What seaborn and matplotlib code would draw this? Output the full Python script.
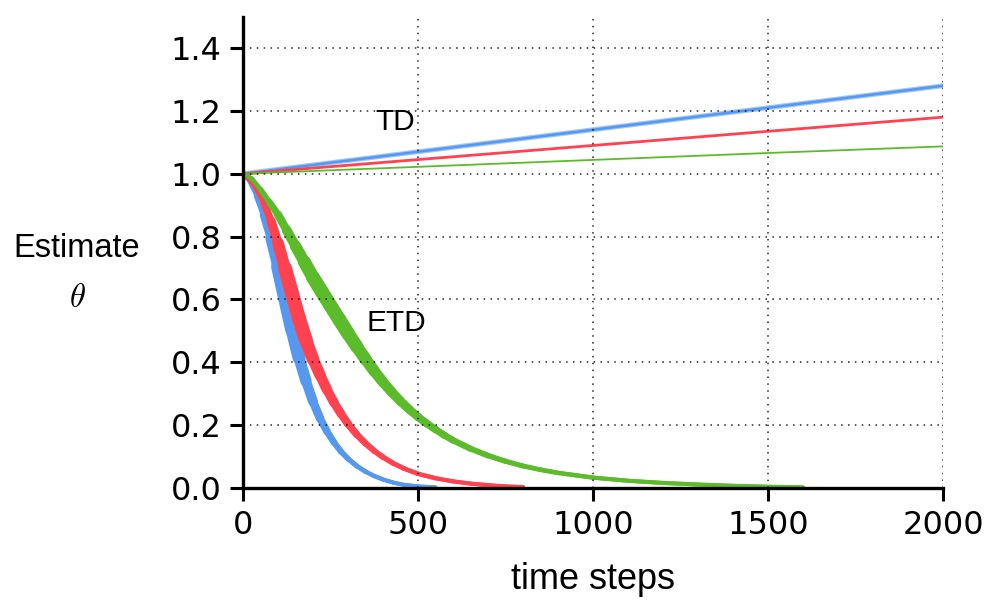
import matplotlib
matplotlib.use("Agg")
import matplotlib.pyplot as plt
import numpy as np
import seaborn as sns
from matplotlib.collections import LineCollection

# colours of the three step sizes
blue = "#5598EE"
red = "#FF4150"
green = "#5CBB2B"

# TD estimates (rising)
td_steps = [0, 500, 1000, 1500, 2000]
td_blue = [1.0, 1.07, 1.14, 1.21, 1.28]
td_red = [1.0, 1.045, 1.09, 1.135, 1.18]
td_green = [1.0, 1.022, 1.044, 1.066, 1.087]

# ETD estimates (decaying)
etd_blue_steps = [0, 20, 40, 60, 80, 100, 120, 140, 160, 180, 200, 220, 240, 260, 280, 300, 325, 350, 375, 400,
                  430, 460, 500, 550]
etd_blue = [1.0, 0.975, 0.93, 0.87, 0.795, 0.705, 0.605, 0.505, 0.415, 0.34, 0.275, 0.222, 0.18, 0.145, 0.116,
            0.093, 0.07, 0.052, 0.038, 0.027, 0.017, 0.01, 0.005, 0.002]

etd_red_steps = [0, 20, 40, 60, 80, 100, 120, 140, 160, 180, 200, 220, 240, 260, 280, 300, 325, 350, 375, 400,
                 430, 460, 500, 550, 600, 650, 700, 750, 800]
etd_red = [1.0, 0.98, 0.95, 0.91, 0.85, 0.78, 0.70, 0.62, 0.54, 0.47, 0.41, 0.36, 0.313, 0.272, 0.236, 0.204,
           0.17, 0.142, 0.118, 0.098, 0.078, 0.062, 0.045, 0.031, 0.021, 0.014, 0.009, 0.005, 0.003]

etd_green_steps = [0, 25, 50, 75, 100, 125, 150, 175, 200, 225, 250, 275, 300, 325, 350, 375, 400, 425, 450, 475,
                   500, 525, 550, 575, 600, 650, 700, 750, 800, 850, 900, 1000, 1100, 1200, 1300, 1400, 1500, 1600]
etd_green = [1.0, 0.985, 0.95, 0.91, 0.87, 0.82, 0.77, 0.72, 0.67, 0.625, 0.58, 0.536, 0.492, 0.45, 0.41, 0.372,
             0.337, 0.305, 0.276, 0.25, 0.226, 0.205, 0.186, 0.168, 0.152, 0.125, 0.103, 0.085, 0.07, 0.058, 0.048,
             0.033, 0.023, 0.016, 0.011, 0.007, 0.004, 0.002]

x_ticks = [0, 500, 1000, 1500, 2000]
y_ticks = [0.0, 0.2, 0.4, 0.6, 0.8, 1.0, 1.2, 1.4]

sns.set_style("ticks")
plt.rcParams['font.family'] = ['DejaVu Sans']
plt.rcParams['mathtext.fontset'] = 'cm'
plt.rcParams['text.color'] = 'black'
plt.rcParams['axes.labelcolor'] = 'black'

fig = plt.figure(figsize=(9.89, 6), dpi=100)
ax = fig.add_axes([0.2457, 0.1867, 0.7078, 0.7856])


def etd_band(steps, vals, color):
    # spread of the runs: thin at the start, wide while falling, thin in the tail
    sns.lineplot(x=steps, y=vals, ax=ax, color=color, lw=3)
    pts = np.column_stack([steps, vals])
    segs = np.stack([pts[:-1], pts[1:]], axis=1)
    mid = (np.array(vals[:-1]) + np.array(vals[1:])) / 2
    spread = np.minimum(np.minimum(mid, 0.5), 1.5 * (1 - mid))
    widths = 2.5 + 15 * spread
    lc = LineCollection(segs, colors=color, linewidths=widths, capstyle="round", joinstyle="round")
    ax.add_collection(lc)


etd_band(etd_blue_steps, etd_blue, blue)
etd_band(etd_red_steps, etd_red, red)
etd_band(etd_green_steps, etd_green, green)

# TD lines
sns.lineplot(x=td_steps, y=td_blue, ax=ax, color=blue, lw=3.5, alpha=0.55)
sns.lineplot(x=td_steps, y=td_blue, ax=ax, color=blue, lw=1.8)
sns.lineplot(x=td_steps, y=td_red, ax=ax, color=red, lw=2.0)
sns.lineplot(x=td_steps, y=td_green, ax=ax, color=green, lw=1.3)

ax.text(434, 1.164, "TD", fontsize=21.5, family="Liberation Sans", ha="center", va="center")
ax.text(437, 0.525, "ETD", fontsize=21.5, family="Liberation Sans", ha="center", va="center")

ax.set_xlim(0, 2000)
ax.set_ylim(0, 1.5)
ax.set_xticks(x_ticks)
ax.set_yticks(y_ticks)
ax.set_yticklabels([f"{v:.1f}" for v in y_ticks])
ax.tick_params(labelsize=23, width=2.2, length=9.5, pad=6, colors="black")

# dotted grid drawn over the bands
ax.grid(True, color="black", lw=1.1, linestyle=(0, (1, 3.5)), alpha=0.85)
ax.set_axisbelow(False)

sns.despine(ax=ax)
for s in ["left", "bottom"]:
    ax.spines[s].set_linewidth(2.4)
    ax.spines[s].set_color("black")

ax.set_xlabel("time steps", fontsize=26, family="Liberation Sans")
ax.xaxis.set_label_coords(0.5, -0.195)
ax.xaxis.label.set_va("center")
ax.set_ylabel("Estimate\n$\\theta$", fontsize=23.5, family="Liberation Sans",
              rotation=0, linespacing=1.8, ha="center", va="center")
ax.yaxis.set_label_coords(-0.237, 0.455)

fig.savefig("out.png", dpi=100)
